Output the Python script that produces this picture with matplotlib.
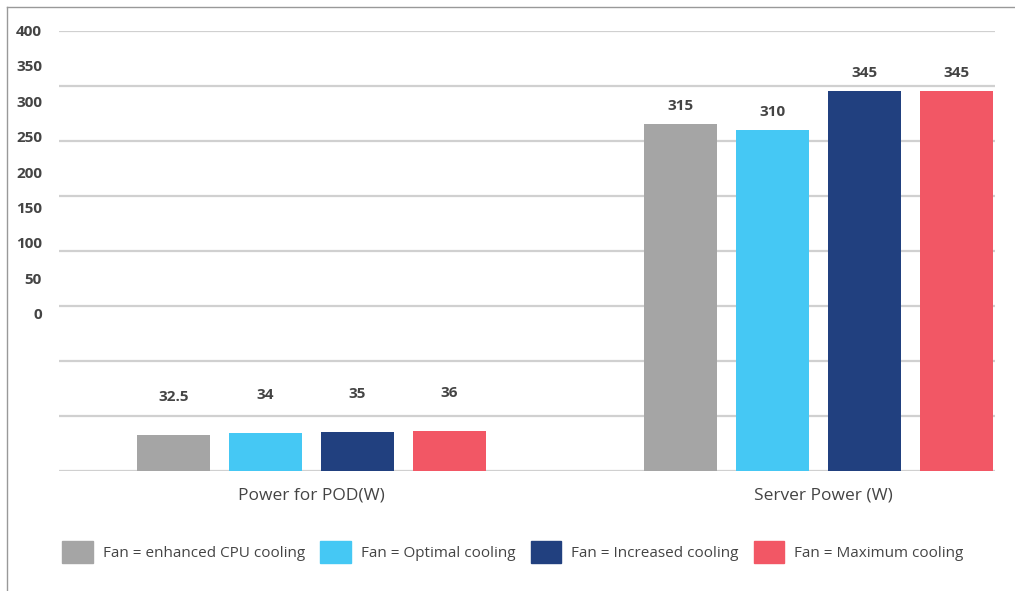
import numpy as np
import matplotlib
matplotlib.use("Agg")
import matplotlib.pyplot as plt
from matplotlib.patches import Patch
from matplotlib.lines import Line2D

plt.rcParams['font.family'] = ['Open Sans', 'DejaVu Sans']

categories = ['Power for POD(W)', 'Server Power (W)']
series = ['Fan = enhanced CPU cooling', 'Fan = Optimal cooling',
          'Fan = Increased cooling', 'Fan = Maximum cooling']
values = [
    [32.5, 315],
    [34, 310],
    [35, 345],
    [36, 345],
]
value_labels = [['32.5', '315'], ['34', '310'], ['35', '345'], ['36', '345']]
ytick_labels = ['400', '350', '300', '250', '200', '150', '100', '50', '0']
colors = ['#A5A5A5', '#45C8F4', '#21407F', '#F25765']
txt = '#444444'

W, H = 1015, 591
fig = plt.figure(figsize=(W / 100, H / 100), dpi=100)
ax = fig.add_axes([59 / W, (H - 470.5) / H, (995 - 59) / W, (470.5 - 31) / H])

x = np.arange(len(categories))
width = 0.1438
step = 0.1813
label_off = [38, 18]  # px above bar top, per category
for i, (s, c) in enumerate(zip(series, colors)):
    pos = x + (i - 1.5) * step
    ax.bar(pos, values[i], width=width, color=c, label=s, zorder=2)
    for j in range(len(categories)):
        ax.annotate(value_labels[i][j], (pos[j], values[i][j]),
                    xytext=(0, label_off[j] * 0.72), textcoords='offset points',
                    ha='center', va='center', fontsize=11, fontweight='bold',
                    color=txt)

ax.set_xlim(-0.4975, 1.347)
ax.set_ylim(0, 400)
for g in range(0, 401, 50):
    ax.axhline(g, color='#D0D0D0', lw=1.6, zorder=1)

for sp in ax.spines.values():
    sp.set_visible(False)
ax.set_xticks([])
ax.set_yticks([])

# y labels (offset from grid, as in the original)
ypix = np.linspace(32, 315, len(ytick_labels))
for lab, yp in zip(ytick_labels, ypix):
    fig.text(42 / W, 1 - yp / H, lab, ha='right', va='center', fontsize=11,
             fontweight='bold', color=txt)

cat_x = [311.5, 823]
for lab, cx in zip(categories, cat_x):
    fig.text(cx / W, 1 - 495 / H, lab, ha='center', va='center', fontsize=12.5,
             color=txt)

# frame lines
fig.add_artist(Line2D([7 / W, 7 / W], [0, 1 - 7 / H], color='#999999', lw=1.0))
fig.add_artist(Line2D([7 / W, 1], [1 - 7 / H, 1 - 7 / H], color='#999999', lw=1.0))

handles = [Patch(color=c) for c in colors]
leg = fig.legend(handles, series, loc='center left', bbox_to_anchor=(50 / W, 1 - 552 / H),
                 ncol=4, frameon=False, fontsize=11, handlelength=2.0,
                 handleheight=1.9, handletextpad=0.65, columnspacing=1.0,
                 borderpad=0.3)
for t in leg.get_texts():
    t.set_color(txt)

fig.savefig('out.png', dpi=100)
